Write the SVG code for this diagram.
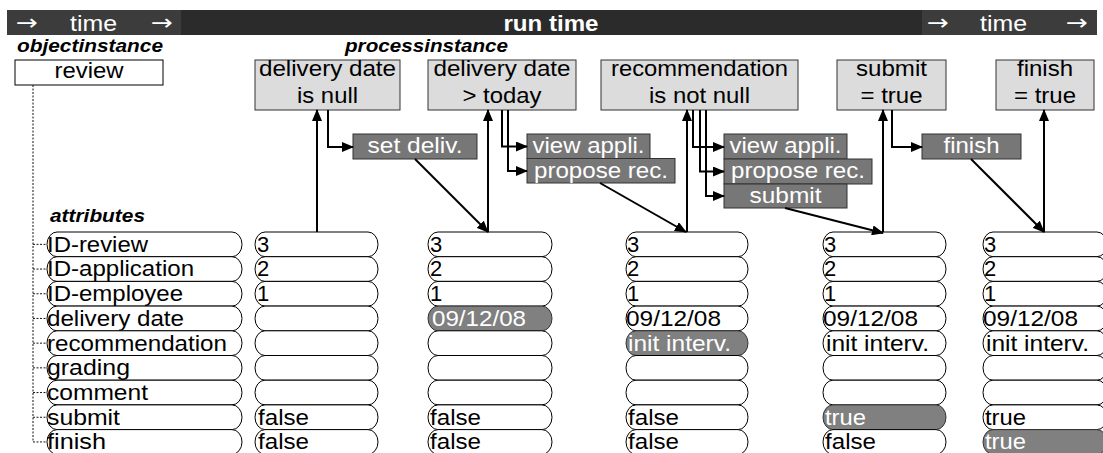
<svg xmlns="http://www.w3.org/2000/svg" width="1103" height="453" viewBox="0 0 1103 453">
<style>
text{font-family:"Liberation Sans",Arial,sans-serif;font-size:22px;fill:#000}
.w{fill:#fff}
.c{text-anchor:middle}
.b{font-weight:bold}
.arr{font-family:"DejaVu Sans",sans-serif;font-size:22px;fill:#fff}
.bi{font-weight:bold;font-style:italic;font-size:18.5px}
.pill{fill:#fff;stroke:#000;stroke-width:1}
.hl{fill:#808080;stroke:#333}
.cond{fill:#dcdcdc;stroke:#333;stroke-width:1}
.act{fill:#777;stroke:#333;stroke-width:1}
.tree{fill:none;stroke:#111;stroke-width:1;stroke-dasharray:2 1.5}
#connectors path{fill:none;stroke:#000;stroke-width:2;marker-end:url(#ah)}
</style>
<defs>
<marker id="ah" markerUnits="userSpaceOnUse" markerWidth="12" markerHeight="10" refX="11" refY="5" orient="auto">
<path d="M0,0 L12,5 L0,10 z" fill="#000"/>
</marker>
</defs>
<rect width="1103" height="453" fill="#fff"/>
<g id="timebar">
<rect x="7" y="10" width="174" height="25" fill="#3c3c3c"/>
<rect x="181" y="10" width="741" height="25" fill="#2b2b2b"/>
<rect x="922" y="10" width="175" height="25" fill="#3c3c3c"/>
<text class="arr" x="16" y="29.5" textLength="22" lengthAdjust="spacingAndGlyphs">→</text>
<text class="w" x="70" y="30.5" textLength="47" lengthAdjust="spacingAndGlyphs">time</text>
<text class="arr" x="151" y="29.5" textLength="22" lengthAdjust="spacingAndGlyphs">→</text>
<text class="w b c" x="551" y="30.5" textLength="95" lengthAdjust="spacingAndGlyphs">run time</text>
<text class="arr" x="927" y="29.5" textLength="22" lengthAdjust="spacingAndGlyphs">→</text>
<text class="w" x="980" y="30.5" textLength="47" lengthAdjust="spacingAndGlyphs">time</text>
<text class="arr" x="1066" y="29.5" textLength="22" lengthAdjust="spacingAndGlyphs">→</text>
</g>
<g id="headers">
<text class="bi" x="17" y="52" textLength="146" lengthAdjust="spacingAndGlyphs">objectinstance</text>
<text class="bi" x="345" y="52" textLength="163" lengthAdjust="spacingAndGlyphs">processinstance</text>
<text class="bi" x="50" y="222" textLength="95" lengthAdjust="spacingAndGlyphs">attributes</text>
</g>
<g id="review">
<rect x="15" y="60" width="148" height="25" fill="#fff" stroke="#000"/>
<text class="c" x="89" y="77.5" textLength="69" lengthAdjust="spacingAndGlyphs">review</text>
</g>
<path class="tree" d="M33,85 V442 M33,244.35 H47 M33,269.05 H47 M33,293.75 H47 M33,318.45 H47 M33,343.15 H47 M33,367.85 H47 M33,392.55 H47 M33,417.25 H47 M33,441.95 H47"/>
<g id="cond1"><rect class="cond" x="255" y="60" width="145" height="50"/>
<text class="c" x="327.5" y="76" textLength="137" lengthAdjust="spacingAndGlyphs">delivery date</text>
<text class="c" x="327.5" y="103" textLength="61" lengthAdjust="spacingAndGlyphs">is null</text></g>
<g id="cond2"><rect class="cond" x="428" y="60" width="148" height="50"/>
<text class="c" x="502" y="76" textLength="137" lengthAdjust="spacingAndGlyphs">delivery date</text>
<text class="c" x="502" y="103" textLength="79" lengthAdjust="spacingAndGlyphs">&gt; today</text></g>
<g id="cond3"><rect class="cond" x="601" y="60" width="197" height="50"/>
<text class="c" x="699.5" y="76" textLength="177" lengthAdjust="spacingAndGlyphs">recommendation</text>
<text class="c" x="699.5" y="103" textLength="101" lengthAdjust="spacingAndGlyphs">is not null</text></g>
<g id="cond4"><rect class="cond" x="837" y="60" width="109" height="50"/>
<text class="c" x="891.5" y="76" textLength="71" lengthAdjust="spacingAndGlyphs">submit</text>
<text class="c" x="891.5" y="103" textLength="62" lengthAdjust="spacingAndGlyphs">= true</text></g>
<g id="cond5"><rect class="cond" x="996" y="60" width="98" height="50"/>
<text class="c" x="1045" y="76" textLength="56" lengthAdjust="spacingAndGlyphs">finish</text>
<text class="c" x="1045" y="103" textLength="62" lengthAdjust="spacingAndGlyphs">= true</text></g>
<g id="act-setdeliv"><rect class="act" x="353" y="134" width="124" height="25"/>
<text class="w c" x="415" y="153" textLength="95" lengthAdjust="spacingAndGlyphs">set deliv.</text></g>
<g id="act-view1"><rect class="act" x="527" y="134" width="123" height="24.5"/>
<text class="w c" x="588.5" y="153" textLength="112" lengthAdjust="spacingAndGlyphs">view appli.</text></g>
<g id="act-propose1"><rect class="act" x="527" y="158.5" width="148" height="24.5"/>
<text class="w c" x="601" y="177.5" textLength="134" lengthAdjust="spacingAndGlyphs">propose rec.</text></g>
<g id="act-view2"><rect class="act" x="724" y="134" width="123" height="25"/>
<text class="w c" x="785.5" y="153" textLength="112" lengthAdjust="spacingAndGlyphs">view appli.</text></g>
<g id="act-propose2"><rect class="act" x="724" y="159" width="148" height="25"/>
<text class="w c" x="798" y="178" textLength="134" lengthAdjust="spacingAndGlyphs">propose rec.</text></g>
<g id="act-submit"><rect class="act" x="724" y="184" width="123" height="24"/>
<text class="w c" x="785.5" y="202.5" textLength="72" lengthAdjust="spacingAndGlyphs">submit</text></g>
<g id="act-finish"><rect class="act" x="922" y="134" width="99" height="25"/>
<text class="w c" x="971.5" y="153" textLength="56" lengthAdjust="spacingAndGlyphs">finish</text></g>
<g id="attributes">
<g id="a0"><rect class="pill" x="47" y="232" width="195" height="24.7" rx="10" ry="12.35"/><text x="47" y="251.7" textLength="101" lengthAdjust="spacingAndGlyphs">ID-review</text></g>
<g id="a1"><rect class="pill" x="47" y="256.7" width="195" height="24.7" rx="10" ry="12.35"/><text x="47" y="276.4" textLength="147" lengthAdjust="spacingAndGlyphs">ID-application</text></g>
<g id="a2"><rect class="pill" x="47" y="281.4" width="195" height="24.7" rx="10" ry="12.35"/><text x="47" y="301.1" textLength="136" lengthAdjust="spacingAndGlyphs">ID-employee</text></g>
<g id="a3"><rect class="pill" x="47" y="306.1" width="195" height="24.7" rx="10" ry="12.35"/><text x="47" y="325.8" textLength="137" lengthAdjust="spacingAndGlyphs">delivery date</text></g>
<g id="a4"><rect class="pill" x="47" y="330.8" width="195" height="24.7" rx="10" ry="12.35"/><text x="47" y="350.5" textLength="180" lengthAdjust="spacingAndGlyphs">recommendation</text></g>
<g id="a5"><rect class="pill" x="47" y="355.5" width="195" height="24.7" rx="10" ry="12.35"/><text x="47" y="375.2" textLength="83" lengthAdjust="spacingAndGlyphs">grading</text></g>
<g id="a6"><rect class="pill" x="47" y="380.2" width="195" height="24.7" rx="10" ry="12.35"/><text x="47" y="399.9" textLength="101" lengthAdjust="spacingAndGlyphs">comment</text></g>
<g id="a7"><rect class="pill" x="47" y="404.9" width="195" height="24.7" rx="10" ry="12.35"/><text x="47" y="424.6" textLength="73" lengthAdjust="spacingAndGlyphs">submit</text></g>
<g id="a8"><rect class="pill" x="47" y="429.6" width="195" height="24.7" rx="10" ry="12.35"/><text x="47" y="449.3" textLength="59" lengthAdjust="spacingAndGlyphs">finish</text></g>
</g>
<g id="state1">
<g id="s1r0"><rect class="pill" x="255" y="232" width="123" height="24.7" rx="10" ry="12.35"/><text x="257" y="251.7">3</text></g>
<g id="s1r1"><rect class="pill" x="255" y="256.7" width="123" height="24.7" rx="10" ry="12.35"/><text x="257" y="276.4">2</text></g>
<g id="s1r2"><rect class="pill" x="255" y="281.4" width="123" height="24.7" rx="10" ry="12.35"/><text x="257" y="301.1">1</text></g>
<g id="s1r3"><rect class="pill" x="255" y="306.1" width="123" height="24.7" rx="10" ry="12.35"/></g>
<g id="s1r4"><rect class="pill" x="255" y="330.8" width="123" height="24.7" rx="10" ry="12.35"/></g>
<g id="s1r5"><rect class="pill" x="255" y="355.5" width="123" height="24.7" rx="10" ry="12.35"/></g>
<g id="s1r6"><rect class="pill" x="255" y="380.2" width="123" height="24.7" rx="10" ry="12.35"/></g>
<g id="s1r7"><rect class="pill" x="255" y="404.9" width="123" height="24.7" rx="10" ry="12.35"/><text x="258" y="424.6" textLength="51" lengthAdjust="spacingAndGlyphs">false</text></g>
<g id="s1r8"><rect class="pill" x="255" y="429.6" width="123" height="24.7" rx="10" ry="12.35"/><text x="258" y="449.3" textLength="51" lengthAdjust="spacingAndGlyphs">false</text></g>
</g>
<g id="state2">
<g id="s2r0"><rect class="pill" x="428" y="232" width="124" height="24.7" rx="10" ry="12.35"/><text x="430" y="251.7">3</text></g>
<g id="s2r1"><rect class="pill" x="428" y="256.7" width="124" height="24.7" rx="10" ry="12.35"/><text x="430" y="276.4">2</text></g>
<g id="s2r2"><rect class="pill" x="428" y="281.4" width="124" height="24.7" rx="10" ry="12.35"/><text x="430" y="301.1">1</text></g>
<g id="s2r3"><rect class="pill hl" x="428" y="306.1" width="124" height="24.7" rx="10" ry="12.35"/><text class="w" x="432" y="325.8" textLength="94" lengthAdjust="spacingAndGlyphs">09/12/08</text></g>
<g id="s2r4"><rect class="pill" x="428" y="330.8" width="124" height="24.7" rx="10" ry="12.35"/></g>
<g id="s2r5"><rect class="pill" x="428" y="355.5" width="124" height="24.7" rx="10" ry="12.35"/></g>
<g id="s2r6"><rect class="pill" x="428" y="380.2" width="124" height="24.7" rx="10" ry="12.35"/></g>
<g id="s2r7"><rect class="pill" x="428" y="404.9" width="124" height="24.7" rx="10" ry="12.35"/><text x="430" y="424.6" textLength="51" lengthAdjust="spacingAndGlyphs">false</text></g>
<g id="s2r8"><rect class="pill" x="428" y="429.6" width="124" height="24.7" rx="10" ry="12.35"/><text x="430" y="449.3" textLength="51" lengthAdjust="spacingAndGlyphs">false</text></g>
</g>
<g id="state3">
<g id="s3r0"><rect class="pill" x="626" y="232" width="122" height="24.7" rx="10" ry="12.35"/><text x="627" y="251.7">3</text></g>
<g id="s3r1"><rect class="pill" x="626" y="256.7" width="122" height="24.7" rx="10" ry="12.35"/><text x="627" y="276.4">2</text></g>
<g id="s3r2"><rect class="pill" x="626" y="281.4" width="122" height="24.7" rx="10" ry="12.35"/><text x="627" y="301.1">1</text></g>
<g id="s3r3"><rect class="pill" x="626" y="306.1" width="122" height="24.7" rx="10" ry="12.35"/><text x="626" y="325.8" textLength="95" lengthAdjust="spacingAndGlyphs">09/12/08</text></g>
<g id="s3r4"><rect class="pill hl" x="626" y="330.8" width="122" height="24.7" rx="10" ry="12.35"/><text class="w" x="628" y="350.5" textLength="103" lengthAdjust="spacingAndGlyphs">init interv.</text></g>
<g id="s3r5"><rect class="pill" x="626" y="355.5" width="122" height="24.7" rx="10" ry="12.35"/></g>
<g id="s3r6"><rect class="pill" x="626" y="380.2" width="122" height="24.7" rx="10" ry="12.35"/></g>
<g id="s3r7"><rect class="pill" x="626" y="404.9" width="122" height="24.7" rx="10" ry="12.35"/><text x="628" y="424.6" textLength="51" lengthAdjust="spacingAndGlyphs">false</text></g>
<g id="s3r8"><rect class="pill" x="626" y="429.6" width="122" height="24.7" rx="10" ry="12.35"/><text x="628" y="449.3" textLength="51" lengthAdjust="spacingAndGlyphs">false</text></g>
</g>
<g id="state4">
<g id="s4r0"><rect class="pill" x="823" y="232" width="123" height="24.7" rx="10" ry="12.35"/><text x="824" y="251.7">3</text></g>
<g id="s4r1"><rect class="pill" x="823" y="256.7" width="123" height="24.7" rx="10" ry="12.35"/><text x="824" y="276.4">2</text></g>
<g id="s4r2"><rect class="pill" x="823" y="281.4" width="123" height="24.7" rx="10" ry="12.35"/><text x="824" y="301.1">1</text></g>
<g id="s4r3"><rect class="pill" x="823" y="306.1" width="123" height="24.7" rx="10" ry="12.35"/><text x="823" y="325.8" textLength="95" lengthAdjust="spacingAndGlyphs">09/12/08</text></g>
<g id="s4r4"><rect class="pill" x="823" y="330.8" width="123" height="24.7" rx="10" ry="12.35"/><text x="826" y="350.5" textLength="103" lengthAdjust="spacingAndGlyphs">init interv.</text></g>
<g id="s4r5"><rect class="pill" x="823" y="355.5" width="123" height="24.7" rx="10" ry="12.35"/></g>
<g id="s4r6"><rect class="pill" x="823" y="380.2" width="123" height="24.7" rx="10" ry="12.35"/></g>
<g id="s4r7"><rect class="pill hl" x="823" y="404.9" width="123" height="24.7" rx="10" ry="12.35"/><text class="w" x="825" y="424.6" textLength="41" lengthAdjust="spacingAndGlyphs">true</text></g>
<g id="s4r8"><rect class="pill" x="823" y="429.6" width="123" height="24.7" rx="10" ry="12.35"/><text x="825" y="449.3" textLength="51" lengthAdjust="spacingAndGlyphs">false</text></g>
</g>
<g id="state5">
<g id="s5r0"><rect class="pill" x="983" y="232" width="124" height="24.7" rx="10" ry="12.35"/><text x="984" y="251.7">3</text></g>
<g id="s5r1"><rect class="pill" x="983" y="256.7" width="124" height="24.7" rx="10" ry="12.35"/><text x="984" y="276.4">2</text></g>
<g id="s5r2"><rect class="pill" x="983" y="281.4" width="124" height="24.7" rx="10" ry="12.35"/><text x="984" y="301.1">1</text></g>
<g id="s5r3"><rect class="pill" x="983" y="306.1" width="124" height="24.7" rx="10" ry="12.35"/><text x="983" y="325.8" textLength="95" lengthAdjust="spacingAndGlyphs">09/12/08</text></g>
<g id="s5r4"><rect class="pill" x="983" y="330.8" width="124" height="24.7" rx="10" ry="12.35"/><text x="986" y="350.5" textLength="103" lengthAdjust="spacingAndGlyphs">init interv.</text></g>
<g id="s5r5"><rect class="pill" x="983" y="355.5" width="124" height="24.7" rx="10" ry="12.35"/></g>
<g id="s5r6"><rect class="pill" x="983" y="380.2" width="124" height="24.7" rx="10" ry="12.35"/></g>
<g id="s5r7"><rect class="pill" x="983" y="404.9" width="124" height="24.7" rx="10" ry="12.35"/><text x="985" y="424.6" textLength="41" lengthAdjust="spacingAndGlyphs">true</text></g>
<g id="s5r8"><rect class="pill hl" x="983" y="429.6" width="124" height="24.7" rx="10" ry="12.35"/><text class="w" x="985" y="449.3" textLength="41" lengthAdjust="spacingAndGlyphs">true</text></g>
</g>
<g id="connectors">
<path d="M317,232 V110"/>
<path d="M328,110 V147 H353"/>
<path d="M415,159 L488,232"/>
<path d="M488,232 V110"/>
<path d="M502,110 V146.5 H527"/>
<path d="M508,110 V171 H527"/>
<path d="M600,183 L686,232"/>
<path d="M687,232 V110"/>
<path d="M693,110 V147 H724"/>
<path d="M700,110 V171.5 H724"/>
<path d="M706,110 V196 H724"/>
<path d="M785,208 L883,233"/>
<path d="M883,232 V110"/>
<path d="M892,110 V147 H922"/>
<path d="M971,159 L1044,232"/>
<path d="M1044,232 V110"/>
</g>
</svg>
